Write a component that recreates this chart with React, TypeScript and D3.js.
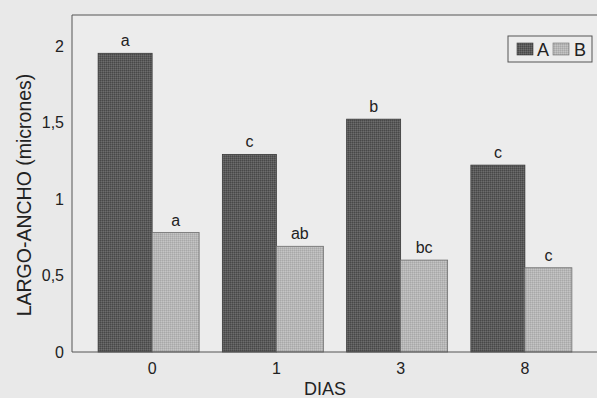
import React from "react";
import * as d3 from "d3";

// Days sampled and the two treatments' mean length-width values (µm)
const dias = ["0", "1", "3", "8"];
const serieA = [1.95, 1.29, 1.52, 1.22];
const serieB = [0.78, 0.69, 0.6, 0.55];
const letrasA = ["a", "c", "b", "c"];
const letrasB = ["a", "ab", "bc", "c"];
const yTicks = [0, 0.5, 1, 1.5, 2];
const yTickLabels = ["0", "0,5", "1", "1,5", "2"];
const series = ["A", "B"];

const W = 597;
const H = 398;
const FONT = "'Liberation Sans', Arial, Helvetica, sans-serif";

export default function App() {
  const x = d3.scaleBand<string>().domain(dias).range([90, 587]).padding(0);
  const y = d3.scaleLinear().domain([0, 2.2]).range([352, 15]);
  const axisX = 72;
  const wA = 54;
  const wB = 47;

  const center = (d: string) => (x(d) ?? 0) + x.bandwidth() / 2;

  return (
    <svg
      width={W}
      height={H}
      style={{ position: "fixed", left: 0, top: 0, display: "block" }}
      fontFamily={FONT}
    >
      <defs>
        <pattern id="texA" width="2" height="2" patternUnits="userSpaceOnUse">
          <rect width="2" height="2" fill="#5a5a5a" />
          <rect width="1" height="1" fill="#484848" />
          <rect x="1" y="1" width="1" height="1" fill="#6c6c6c" />
        </pattern>
        <pattern id="texB" width="2" height="2" patternUnits="userSpaceOnUse">
          <rect width="2" height="2" fill="#b6b6b6" />
          <rect width="1" height="1" fill="#a8a8a8" />
          <rect x="1" y="1" width="1" height="1" fill="#c4c4c4" />
        </pattern>
      </defs>

      <rect width={W} height={H} fill="#e9e9e9" />
      <rect x={axisX} y={y(2.2)} width={W - axisX} height={y(0) - y(2.2)} fill="#ececec" />

      {/* Bars */}
      {dias.map((d, i) => {
        const c = center(d);
        return (
          <g key={d}>
            <rect
              x={c - wA}
              y={y(serieA[i])}
              width={wA}
              height={y(0) - y(serieA[i])}
              fill="url(#texA)"
              stroke="#3a3a3a"
              strokeWidth={0.8}
            />
            <rect
              x={c}
              y={y(serieB[i])}
              width={wB}
              height={y(0) - y(serieB[i])}
              fill="url(#texB)"
              stroke="#6e6e6e"
              strokeWidth={0.8}
            />
            <text
              x={c - wA / 2}
              y={y(serieA[i]) - 7}
              textAnchor="middle"
              fontSize={16}
              fill="#222"
            >
              {letrasA[i]}
            </text>
            <text
              x={c + wB / 2}
              y={y(serieB[i]) - 7}
              textAnchor="middle"
              fontSize={16}
              fill="#222"
            >
              {letrasB[i]}
            </text>
            <text x={c} y={374} textAnchor="middle" fontSize={16} fill="#222">
              {d}
            </text>
          </g>
        );
      })}

      {/* Frame: left axis, top border and baseline */}
      <line x1={axisX} x2={axisX} y1={y(2.2)} y2={y(0)} stroke="#555" strokeWidth={1} />
      <line x1={axisX} x2={W} y1={y(2.2)} y2={y(2.2)} stroke="#555" strokeWidth={1} />
      <line x1={axisX} x2={W} y1={y(0)} y2={y(0)} stroke="#555" strokeWidth={1} />

      {/* Y tick labels */}
      {yTicks.map((t, i) => (
        <text
          key={t}
          x={64}
          y={y(t) + 6}
          textAnchor="end"
          fontSize={16}
          fill="#222"
        >
          {yTickLabels[i]}
        </text>
      ))}

      {/* Axis titles */}
      <text
        transform={`translate(31, 195) rotate(-90)`}
        textAnchor="middle"
        fontSize={19.5}
        fill="#222"
      >
        LARGO-ANCHO (micrones)
      </text>
      <text x={325} y={395} textAnchor="middle" fontSize={18} fill="#222">
        DIAS
      </text>

      {/* Legend */}
      <rect x={508} y={36} width={84} height={26} fill="none" stroke="#555" strokeWidth={1} />
      <rect x={517} y={43} width={16} height={12} fill="url(#texA)" stroke="#3a3a3a" strokeWidth={0.6} />
      <text x={537} y={56} fontSize={18} fill="#222">{series[0]}</text>
      <rect x={553} y={43} width={16} height={12} fill="url(#texB)" stroke="#6e6e6e" strokeWidth={0.6} />
      <text x={574} y={56} fontSize={18} fill="#222">{series[1]}</text>
    </svg>
  );
}
